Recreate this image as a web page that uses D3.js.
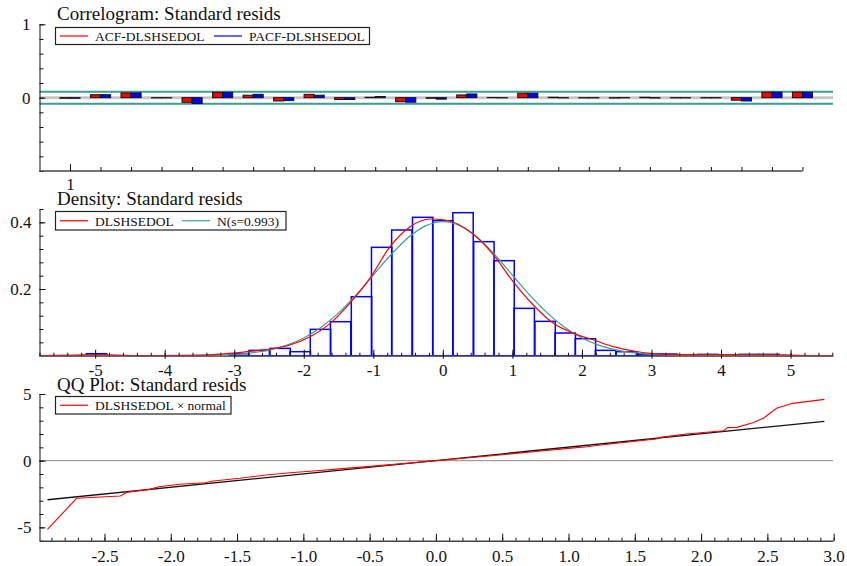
<!DOCTYPE html>
<html>
<head>
<meta charset="utf-8">
<script src="https://cdn.jsdelivr.net/npm/d3@7"></script>
<style>
  body { margin: 0; background: #fff; }
  text { font-family: "Liberation Serif", "Times New Roman", serif; }
</style>
</head>
<body>
<div id="chart"></div>
<script>
// ---- correlogram data (lags 1..25)
var lags = d3.range(1, 26);
var acf  = [-0.008, 0.04, 0.065, -0.003, -0.063, 0.073, 0.033, -0.045, 0.045, -0.025, 0.005, -0.055, -0.008,
            0.037, 0.002, 0.06, 0.005, -0.003, -0.005, 0.005, -0.003, -0.003, -0.035, 0.075, 0.075];
var pacf = [-0.008, 0.04, 0.065, -0.003, -0.08, 0.073, 0.045, -0.04, 0.033, -0.025, 0.015, -0.062, -0.02,
            0.05, -0.003, 0.06, -0.003, -0.003, -0.003, -0.005, -0.003, -0.003, -0.045, 0.075, 0.075];
var corrBand = 0.082;
var corrYLabels = [0, 1];

// ---- density data
var binWidth = 0.293;
var binCenters = [-4.98, -2.93, -2.64, -2.34, -2.05, -1.76, -1.47, -1.17, -0.88, -0.59, -0.29, 0, 0.29,
                  0.59, 0.88, 1.17, 1.47, 1.76, 2.05, 2.34, 2.64, 2.93, 3.22, 3.81, 4.40, 4.69];
var binHeights = [0.006, 0.006, 0.016, 0.022, 0.012, 0.079, 0.102, 0.177, 0.325, 0.377, 0.415, 0.405, 0.429,
                  0.342, 0.285, 0.142, 0.103, 0.068, 0.051, 0.016, 0.012, 0.004, 0.005, 0.004, 0.004, 0.004];
var kdeX = [-5.8, -5.3, -5.0, -4.7, -4.2, -3.6, -3.3, -3.06, -2.78, -2.49, -2.2, -1.91, -1.62, -1.34, -1.05,
            -0.76, -0.47, -0.18, 0.03, 0.44, 0.73, 1.01, 1.30, 1.59, 1.88, 2.17, 2.45, 2.74, 3.03, 3.4,
            3.8, 4.3, 4.7, 5.0, 5.3, 5.61];
var kdeY = [0.0005, 0.002, 0.003, 0.002, 0.0005, 0.001, 0.003, 0.007, 0.013, 0.02, 0.032, 0.057, 0.097, 0.157, 0.232,
            0.327, 0.387, 0.41, 0.407, 0.364, 0.302, 0.222, 0.152, 0.097, 0.067, 0.047, 0.027, 0.014, 0.006, 0.003,
            0.003, 0.003, 0.003, 0.002, 0.0005, 0];
var normX = [-5.8, -4.5, -4, -3.5, -3, -2.75, -2.5, -2.25, -2, -1.75, -1.5, -1.25, -1, -0.75, -0.5, -0.25, 0,
             0.25, 0.5, 0.75, 1, 1.25, 1.5, 1.75, 2, 2.25, 2.5, 2.75, 3, 3.5, 4, 4.5, 5.61];
var normY = [0, 0, 0.0001, 0.0008, 0.0042, 0.0087, 0.0169, 0.0309, 0.0529, 0.0851, 0.1284, 0.1819, 0.2420,
             0.3021, 0.3539, 0.3893, 0.4018, 0.3893, 0.3539, 0.3021, 0.2420, 0.1819, 0.1284, 0.0851, 0.0529,
             0.0309, 0.0169, 0.0087, 0.0042, 0.0008, 0.0001, 0, 0];
var densXTicks = [-5, -4, -3, -2, -1, 0, 1, 2, 3, 4, 5];
var densYLabels = [0.2, 0.4];

// ---- QQ data
var qqTheo   = [-2.93, -2.71, -2.38, -2.33, -2.16, -2.09, -1.93, -1.74, -1.68, -1.48, -1.28, -1.10, -0.9, -0.75,
                -0.5, -0.25, 0, 0.25, 0.5, 0.75, 1.0, 1.14, 1.24, 1.45, 1.66, 1.69, 1.89, 2.17, 2.20, 2.27,
                2.39, 2.47, 2.57, 2.69, 2.93];
var qqSample = [-5.15, -2.82, -2.65, -2.37, -2.15, -1.95, -1.77, -1.65, -1.52, -1.32, -1.07, -0.90, -0.76, -0.63,
                -0.43, -0.22, 0, 0.22, 0.45, 0.69, 0.92, 1.05, 1.18, 1.4, 1.62, 1.75, 2.0, 2.25, 2.48, 2.5,
                2.85, 3.18, 3.93, 4.3, 4.6];
var qqLineX = [-2.93, 2.93];
var qqLineY = [-2.93, 2.95];
var qqXTicks = [-2.5, -2.0, -1.5, -1.0, -0.5, 0.0, 0.5, 1.0, 1.5, 2.0, 2.5, 3.0];
var qqYLabels = [-5, 0, 5];

var teal = "#3a9e96";
var left = 39.5, right = 833;

var svg = d3.select("#chart")
  .append("svg")
    .attr("width", 847)
    .attr("height", 566);

// small helper to put serif text on an axis group
function styleAxis(g, size) {
  g.attr("font-family", null).attr("font-size", size);
  g.selectAll(".tick line").attr("stroke", "#111");
  g.selectAll(".tick text").attr("fill", "#111");
}

function legendBox(x, y, w, h, items) {
  var g = svg.append("g");
  g.append("rect")
    .attr("x", x).attr("y", y).attr("width", w).attr("height", h)
    .attr("fill", "#fff").attr("stroke", "#222").attr("stroke-width", 1.2);
  items.forEach(function(it) {
    g.append("line")
      .attr("x1", it.x).attr("x2", it.x + 28)
      .attr("y1", y + h / 2).attr("y2", y + h / 2)
      .attr("stroke", it.color).attr("stroke-width", 1.2);
    g.append("text")
      .attr("x", it.x + 35).attr("y", y + h / 2 + 4.8)
      .attr("font-size", 13.5).attr("fill", "#111")
      .text(it.label);
  });
}

function title(y, txt) {
  svg.append("text")
    .attr("x", 57).attr("y", y)
    .attr("font-size", 19).attr("fill", "#111")
    .text(txt);
}

// =================== Correlogram ===================
var x1 = d3.scaleLinear().domain([0, 26]).range([left, right]);
var y1 = d3.scaleLinear().domain([-1, 1]).range([171, 24.3]);
var barW = x1(0.33) - x1(0);

// zero line + bands
svg.append("line")
  .attr("x1", left).attr("x2", right).attr("y1", y1(0)).attr("y2", y1(0))
  .attr("stroke", "#c6c6c6").attr("stroke-width", 3);
[corrBand, -corrBand].forEach(function(b) {
  svg.append("line")
    .attr("x1", left).attr("x2", right).attr("y1", y1(b)).attr("y2", y1(b))
    .attr("stroke", teal).attr("stroke-width", 2);
});

function corrBars(vals, color, offset) {
  svg.append("g").selectAll("rect")
    .data(vals)
    .enter()
    .append("rect")
      .attr("x", function(d, i) { return x1(lags[i]) + offset * barW; })
      .attr("y", function(d) { return y1(Math.max(d, 0)); })
      .attr("width", barW)
      .attr("height", function(d) { return Math.abs(y1(d) - y1(0)); })
      .attr("fill", color)
      .attr("stroke", "#111")
      .attr("stroke-width", 1);
}
corrBars(acf, "#ff0000", -1);
corrBars(pacf, "#0000ff", 0);

// y axis
var ya1 = svg.append("g")
  .attr("transform", "translate(" + left + ",0)")
  .call(d3.axisLeft(y1).tickValues(d3.range(-1, 1.01, 0.2)).tickSize(-4).tickSizeOuter(0).tickFormat(""));
styleAxis(ya1, 17);
ya1.select(".domain").attr("stroke", "#111");
var yl1 = svg.append("g")
  .attr("transform", "translate(" + left + ",0)")
  .call(d3.axisLeft(y1).tickValues(corrYLabels).tickSize(-6).tickPadding(9).tickFormat(d3.format("d")));
yl1.select(".domain").remove();
styleAxis(yl1, 17);

// x axis
svg.append("line")
  .attr("x1", x1(0)).attr("x2", x1(25)).attr("y1", 171).attr("y2", 171)
  .attr("stroke", "#444").attr("stroke-width", 1.5);
var xa1 = svg.append("g")
  .attr("transform", "translate(0,171)")
  .call(d3.axisBottom(x1).tickValues(lags.slice(1)).tickSize(-4).tickFormat(""));
xa1.select(".domain").remove();
styleAxis(xa1, 17);
var xl1 = svg.append("g")
  .attr("transform", "translate(0,171)")
  .call(d3.axisBottom(x1).tickValues([1]).tickSize(-7).tickPadding(7).tickFormat(d3.format("d")));
xl1.select(".domain").remove();
styleAxis(xl1, 17);

title(20, "Correlogram: Standard resids");
legendBox(55.5, 27.5, 314, 17, [
  {x: 60, color: "#ff0000", label: "ACF-DLSHSEDOL"},
  {x: 214, color: "#0000ff", label: "PACF-DLSHSEDOL"}
]);

// =================== Density ===================
var x2 = d3.scaleLinear().domain([-5.8, 5.61]).range([left, right]);
var y2 = d3.scaleLinear().domain([0, 0.44]).range([355.7, 209]);

svg.append("g").selectAll("rect")
  .data(binHeights)
  .enter()
  .append("rect")
    .attr("x", function(d, i) { return x2(binCenters[i] - binWidth / 2); })
    .attr("y", function(d) { return y2(d); })
    .attr("width", x2(binWidth) - x2(0))
    .attr("height", function(d) { return y2(0) - y2(d); })
    .attr("fill", "none")
    .attr("stroke", "#0000ff")
    .attr("stroke-width", 1.5);

var normLine = d3.line()
  .x(function(d, i) { return x2(normX[i]); })
  .y(function(d) { return y2(d); })
  .curve(d3.curveMonotoneX);
svg.append("path")
  .datum(normY)
  .attr("d", normLine)
  .attr("fill", "none").attr("stroke", teal).attr("stroke-width", 1.2);

var kdeLine = d3.line()
  .x(function(d, i) { return x2(kdeX[i]); })
  .y(function(d) { return y2(d); })
  .curve(d3.curveMonotoneX);
svg.append("path")
  .datum(kdeY)
  .attr("d", kdeLine)
  .attr("fill", "none").attr("stroke", "#ff0000").attr("stroke-width", 1.2);

// y axis
var ya2 = svg.append("g")
  .attr("transform", "translate(" + left + ",0)")
  .call(d3.axisLeft(y2).tickValues(d3.range(0, 0.441, 0.04)).tickSize(-4).tickSizeOuter(0).tickFormat(""));
styleAxis(ya2, 17);
ya2.select(".domain").attr("stroke", "#111");
var yl2 = svg.append("g")
  .attr("transform", "translate(" + left + ",0)")
  .call(d3.axisLeft(y2).tickValues(densYLabels).tickSize(-6).tickPadding(8).tickFormat(function(d) { return d.toFixed(1); }));
yl2.select(".domain").remove();
styleAxis(yl2, 17);

// x axis
var xa2 = svg.append("g")
  .attr("transform", "translate(0,355.7)")
  .call(d3.axisBottom(x2).tickValues(d3.range(-5.8, 5.61, 0.2)).tickSize(-3).tickSizeOuter(0).tickFormat(""));
styleAxis(xa2, 17);
xa2.select(".domain").attr("stroke", "#666").attr("stroke-width", 1.6);
var xu2 = svg.append("g")
  .attr("transform", "translate(0,355.7)")
  .call(d3.axisBottom(x2).tickValues(densXTicks).tickSize(-6).tickFormat(""));
xu2.select(".domain").remove();
styleAxis(xu2, 17);
var xl2 = svg.append("g")
  .attr("transform", "translate(0,355.7)")
  .call(d3.axisBottom(x2).tickValues(densXTicks).tickSize(3).tickPadding(5).tickFormat(function(d) { return String(d); }));
xl2.select(".domain").remove();
styleAxis(xl2, 17);

title(205, "Density: Standard resids");
legendBox(55.5, 211.5, 230.5, 18.5, [
  {x: 60, color: "#ff0000", label: "DLSHSEDOL"},
  {x: 182, color: teal, label: "N(s=0.993)"}
]);

// =================== QQ plot ===================
var x3 = d3.scaleLinear().domain([-2.99, 2.995]).range([left, right]);
var y3 = d3.scaleLinear().domain([-6, 5]).range([540.7, 394]);

svg.append("line")
  .attr("x1", left).attr("x2", right).attr("y1", y3(0)).attr("y2", y3(0))
  .attr("stroke", "#888").attr("stroke-width", 1);

var refLine = d3.line()
  .x(function(d, i) { return x3(qqLineX[i]); })
  .y(function(d) { return y3(d); });
svg.append("path")
  .datum(qqLineY)
  .attr("d", refLine)
  .attr("fill", "none").attr("stroke", "#111").attr("stroke-width", 1.3);

var qqLine = d3.line()
  .x(function(d, i) { return x3(qqTheo[i]); })
  .y(function(d) { return y3(d); });
svg.append("path")
  .datum(qqSample)
  .attr("d", qqLine)
  .attr("fill", "none").attr("stroke", "#ff0000").attr("stroke-width", 1.1);

// y axis
var ya3 = svg.append("g")
  .attr("transform", "translate(" + left + ",0)")
  .call(d3.axisLeft(y3).tickValues(d3.range(-6, 5.1, 1)).tickSize(-4).tickSizeOuter(0).tickFormat(""));
styleAxis(ya3, 17);
ya3.select(".domain").attr("stroke", "#111");
var yl3 = svg.append("g")
  .attr("transform", "translate(" + left + ",0)")
  .call(d3.axisLeft(y3).tickValues(qqYLabels).tickSize(-6).tickPadding(8).tickFormat(function(d) { return String(d); }));
yl3.select(".domain").remove();
styleAxis(yl3, 17);

// x axis
var xa3 = svg.append("g")
  .attr("transform", "translate(0,540.7)")
  .call(d3.axisBottom(x3).tickValues(d3.range(-2.9, 3.01, 0.1)).tickSize(-3).tickSizeOuter(0).tickFormat(""));
styleAxis(xa3, 17);
xa3.select(".domain").attr("stroke", "#444").attr("stroke-width", 1.5);
var xl3 = svg.append("g")
  .attr("transform", "translate(0,540.7)")
  .call(d3.axisBottom(x3).tickValues(qqXTicks).tickSize(-7).tickPadding(9).tickFormat(function(d) { return d.toFixed(1); }));
xl3.select(".domain").remove();
styleAxis(xl3, 17);

title(391, "QQ Plot: Standard resids");
legendBox(55.5, 396.5, 175.5, 17.5, [
  {x: 60, color: "#ff0000", label: "DLSHSEDOL \u00d7 normal"}
]);
</script>
</body>
</html>
